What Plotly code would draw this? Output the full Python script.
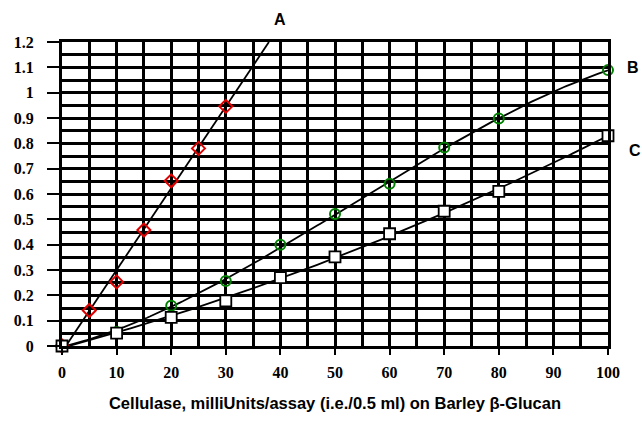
import numpy as np
import plotly.graph_objects as go

# Data
a_x = [0, 5, 10, 15, 20, 25, 30]
a_y = [0.0, 0.14, 0.253, 0.458, 0.652, 0.78, 0.946]

b_x = [0, 10, 20, 30, 40, 50, 60, 70, 80, 100]
b_y = [0.0, 0.055, 0.159, 0.257, 0.40, 0.521, 0.64, 0.784, 0.898, 1.089]

c_x = [0, 10, 20, 30, 40, 50, 60, 70, 80, 100]
c_y = [0.0, 0.051, 0.113, 0.178, 0.27, 0.352, 0.443, 0.532, 0.61, 0.83]

x_ticks = [0, 10, 20, 30, 40, 50, 60, 70, 80, 90, 100]
y_ticks = [0, 0.1, 0.2, 0.3, 0.4, 0.5, 0.6, 0.7, 0.8, 0.9, 1, 1.1, 1.2]
y_tick_text = ["0", "0.1", "0.2", "0.3", "0.4", "0.5", "0.6", "0.7", "0.8", "0.9", "1", "1.1", "1.2"]
series_labels = ["A", "B", "C"]
x_title = "Cellulase, milliUnits/assay (i.e./0.5 ml) on Barley \u03b2-Glucan"

# Fitted curves computed from the data
pa = np.polyfit(a_x, a_y, 1)
xa0 = -pa[1] / pa[0]
xa1 = (1.2 - pa[1]) / pa[0]
fa_x = np.linspace(max(xa0, 0), xa1, 50)
fa_y = np.polyval(pa, fa_x)

pb = np.polyfit(b_x, b_y, 3)
fb_x = np.linspace(0, 100, 200)
fb_y = np.polyval(pb, fb_x)

pc = np.polyfit(c_x, c_y, 2)
fc_x = np.linspace(0, 100, 200)
fc_y = np.polyval(pc, fc_x)

fig = go.Figure()
line_style = dict(color="black", width=1.8)
fig.add_trace(go.Scatter(x=fa_x, y=fa_y, mode="lines", line=line_style, hoverinfo="skip"))
fig.add_trace(go.Scatter(x=fb_x, y=fb_y, mode="lines", line=line_style, hoverinfo="skip"))
fig.add_trace(go.Scatter(x=fc_x, y=fc_y, mode="lines", line=line_style, hoverinfo="skip"))

fig.add_trace(go.Scatter(x=a_x, y=a_y, mode="markers", cliponaxis=False,
                         marker=dict(symbol="diamond-open", size=10, color="#e00000",
                                     line=dict(width=2, color="#e00000"))))
fig.add_trace(go.Scatter(x=b_x, y=b_y, mode="markers", cliponaxis=False,
                         marker=dict(symbol="circle-open", size=10, color="#008000",
                                     line=dict(width=2, color="#008000"))))
fig.add_trace(go.Scatter(x=c_x, y=c_y, mode="markers", cliponaxis=False,
                         marker=dict(symbol="square", size=11, color="white",
                                     line=dict(width=1.8, color="black"))))

tick_font = dict(family="Liberation Serif", size=16, color="black", weight="bold")

fig.update_layout(
    width=642, height=423,
    margin=dict(l=62, r=34, t=42, b=74),
    paper_bgcolor="white", plot_bgcolor="white",
    showlegend=False,
    xaxis=dict(
        range=[0, 100], tickmode="array", tickvals=x_ticks,
        ticks="outside", ticklen=6, tickwidth=2, tickcolor="black",
        showgrid=True, gridcolor="black", gridwidth=2.5,
        minor=dict(dtick=5, tick0=0, showgrid=True, gridcolor="black", gridwidth=2.5, ticks=""),
        showline=True, linecolor="black", linewidth=3, mirror=True,
        zeroline=False, tickfont=tick_font, ticklabelstandoff=4,
        title=dict(text=x_title, font=dict(family="Liberation Sans", size=16.5, color="black", weight="bold"),
                   standoff=18),
    ),
    yaxis=dict(
        range=[0, 1.2], tickmode="array", tickvals=y_ticks, ticktext=y_tick_text,
        ticks="outside", ticklen=12, tickwidth=2, tickcolor="black",
        showgrid=True, gridcolor="black", gridwidth=2.5,
        minor=dict(dtick=0.05, tick0=0, showgrid=True, gridcolor="black", gridwidth=2.5, ticks=""),
        showline=True, linecolor="black", linewidth=3, mirror=True,
        zeroline=False, tickfont=tick_font, ticklabelstandoff=10,
    ),
)

label_font = dict(family="Liberation Sans", size=16, color="black", weight="bold")
fig.add_annotation(x=39.9, y=1.0, xref="x", yref="paper", yanchor="bottom", yshift=12,
                   text=series_labels[0], showarrow=False, font=label_font)
fig.add_annotation(x=1.031, y=1.10, xref="paper", yref="y", xanchor="left",
                   text=series_labels[1], showarrow=False, font=label_font)
fig.add_annotation(x=1.034, y=0.77, xref="paper", yref="y", xanchor="left",
                   text=series_labels[2], showarrow=False, font=label_font)

fig.write_html("out.html")
